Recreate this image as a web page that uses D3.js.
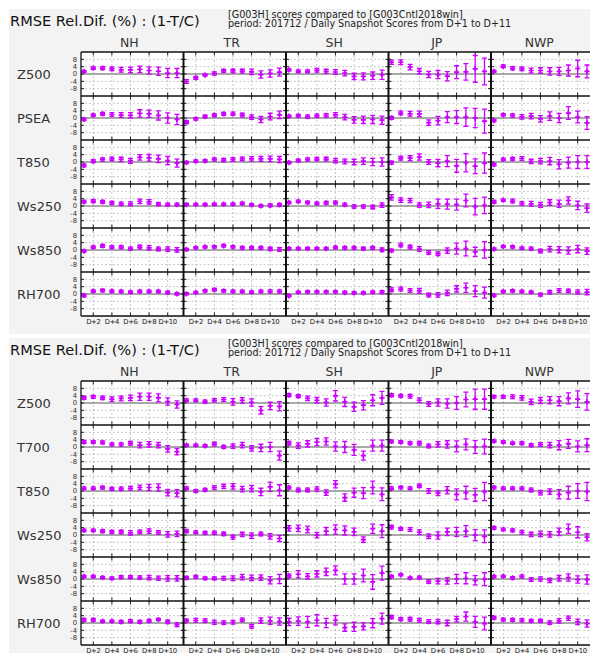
<!DOCTYPE html>
<html>
<head>
<meta charset="utf-8">
<script src="https://cdn.jsdelivr.net/npm/d3@7"></script>
<style>
body { margin: 0; background: #fff; }
svg { display: block; font-family: "DejaVu Sans", sans-serif; }
</style>
</head>
<body>
<svg id="chart" width="590" height="653"></svg>
<script>
// regions (columns) and forecast days
var regions = ["NH", "TR", "SH", "JP", "NWP"];
var days = [1, 2, 3, 4, 5, 6, 7, 8, 9, 10, 11];
var dayTicks = [2, 4, 6, 8, 10];
var yTicks = [8, 4, 0, -4, -8];
var title = "RMSE Rel.Dif. (%) : (1-T/C)";
var subtitle = ["[G003H] scores compared to [G003Cntl2018win]",
                "period: 201712 / Daily Snapshot Scores from D+1 to D+11"];

// ---- upper chart: one array per variable, one row per region (NH,TR,SH,JP,NWP)
var topVars = ["Z500", "PSEA", "T850", "Ws250", "Ws850", "RH700"];
var top_Z500 = [
  [1.4,3.2,3.2,2.8,2.3,2.3,2.5,1.9,1.5,0.5,0.5],
  [-4.1,-2.1,-0.6,0.3,1.7,1.7,1.6,1.2,-0.3,0.3,1.0],
  [2.2,1.5,1.5,2.0,1.5,1.1,0.5,-1.3,-1.3,-0.9,-0.4],
  [6.4,6.4,3.7,1.5,-0.3,-0.3,-1.2,1.0,1.2,2.8,1.4],
  [1.5,4.2,3.1,2.8,1.9,1.9,1.4,1.4,1.9,3.0,1.4]];
var top_Z500_err = [
  [0.5,0.7,0.8,1.0,1.3,1.5,1.8,2.0,2.3,2.5,2.5],
  [1.0,0.8,0.6,0.9,0.8,0.9,1.0,1.5,2.0,2.0,2.2],
  [0.6,0.7,0.8,1.0,1.1,1.3,1.5,1.7,1.9,2.0,2.5],
  [1.2,1.3,1.5,1.5,1.7,2.2,2.5,3.5,4.5,7.3,7.3],
  [0.6,0.7,0.9,1.0,1.3,1.5,2.0,2.2,3.0,4.5,3.5]];
var top_PSEA = [
  [-0.8,1.6,2.3,1.9,1.6,1.4,2.5,2.3,1.4,0.0,-0.8],
  [-2.3,-0.5,0.8,1.6,2.3,2.3,1.6,0.5,-0.8,0.8,1.7],
  [1.0,1.2,0.8,1.2,1.4,1.7,0.5,-1.0,-1.0,-0.8,-1.2],
  [0.1,2.7,2.3,2.3,-2.5,-1.4,0.5,0.5,0.5,0.0,-1.7],
  [-1.4,1.7,1.4,0.6,1.0,-0.5,1.0,0.0,2.7,0.5,-2.7]];
var top_PSEA_err = [
  [0.6,0.7,0.8,1.0,1.3,1.5,2.0,2.0,2.5,2.8,2.8],
  [0.8,0.7,0.7,0.8,0.8,0.9,1.0,1.2,1.7,1.8,2.0],
  [0.6,0.7,0.8,0.9,1.0,1.2,1.5,1.8,2.0,2.2,2.2],
  [0.8,1.0,1.3,1.5,1.5,2.3,3.0,3.5,5.0,5.2,6.5],
  [0.7,0.7,0.9,1.2,1.5,1.8,2.3,2.5,3.5,3.2,3.5]];
var top_T850 = [
  [-1.9,0.5,1.4,1.7,1.4,0.6,2.5,2.3,1.7,0.8,-0.6],
  [-0.3,0.5,0.6,1.4,1.0,1.4,1.7,1.7,1.7,1.7,1.4],
  [-0.3,0.8,1.4,1.6,1.6,0.8,0.3,0.0,0.5,0.0,0.0],
  [-0.4,2.1,2.1,2.7,0.0,-0.6,0.5,-2.1,-0.4,-2.3,-0.6],
  [-1.4,1.4,1.7,1.9,0.3,0.5,0.5,-1.2,-0.3,0.0,0.0]];
var top_T850_err = [
  [0.8,0.8,0.9,1.0,1.2,1.3,1.5,1.8,2.0,2.2,2.2],
  [0.6,0.7,0.7,0.8,0.9,1.0,1.0,1.2,1.3,1.5,1.7],
  [0.6,0.7,0.8,0.9,1.0,1.2,1.3,1.5,1.8,2.0,2.3],
  [0.8,1.0,1.3,1.7,1.3,2.0,3.0,3.5,5.0,4.0,5.5],
  [0.7,0.7,0.8,1.0,1.2,1.5,2.0,2.5,3.0,3.5,3.5]];
var top_Ws250 = [
  [2.3,2.7,2.3,1.7,1.2,1.2,2.5,2.3,1.0,0.8,0.8],
  [0.8,0.8,0.8,1.0,1.0,1.0,1.4,0.6,0.1,0.3,0.6],
  [1.9,2.5,1.9,1.4,1.7,1.9,0.8,-0.3,-0.3,-0.5,0.5],
  [4.7,3.2,3.0,0.5,0.6,1.2,1.0,0.8,3.0,-0.3,0.3],
  [2.3,3.2,2.7,1.4,1.2,0.6,1.9,1.2,3.0,0.3,-1.2]];
var top_Ws250_err = [
  [0.7,0.8,0.8,0.8,0.9,1.0,1.2,1.2,0.8,0.8,0.8],
  [0.6,0.6,0.6,0.6,0.6,0.7,0.7,0.7,0.7,0.8,0.8],
  [0.6,0.7,0.7,0.7,0.8,0.8,0.8,0.9,0.9,1.0,1.2],
  [1.5,1.2,1.2,1.2,1.5,2.5,2.7,3.0,3.5,4.5,4.5],
  [0.8,0.7,1.0,1.0,1.3,1.3,1.5,2.0,2.0,2.3,2.3]];
var top_Ws850 = [
  [-0.6,1.6,2.3,1.6,1.6,0.8,1.6,1.2,0.6,0.5,0.1],
  [0.3,1.2,1.7,1.7,2.3,1.7,1.2,1.2,1.2,0.6,0.3],
  [0.8,0.8,0.8,0.8,0.8,1.4,1.2,1.2,0.8,1.2,0.1],
  [-0.3,2.7,1.6,0.5,-1.4,-2.1,-0.3,0.8,0.8,-1.0,0.1],
  [0.5,1.9,1.7,1.0,0.8,-0.6,0.5,0.1,-0.3,0.5,-0.6]];
var top_Ws850_err = [
  [0.6,0.7,0.8,0.8,0.8,0.8,1.0,1.2,1.0,1.2,1.2],
  [0.6,0.6,0.6,0.7,0.7,0.7,0.7,0.8,0.8,0.9,1.0],
  [0.6,0.6,0.6,0.6,0.6,0.7,0.7,0.7,0.7,0.8,1.0],
  [0.7,1.0,1.0,1.3,1.0,1.0,1.5,3.0,4.0,2.5,4.5],
  [0.6,0.6,0.7,0.7,0.8,1.0,1.5,1.7,2.0,2.0,1.8]];
var top_RH700 = [
  [-0.8,1.6,1.9,1.6,1.4,1.0,1.4,1.4,1.4,0.8,0.1],
  [0.1,0.8,1.7,2.3,1.7,1.4,1.4,1.0,1.4,1.4,1.4],
  [-1.0,1.0,1.2,1.2,1.2,1.2,0.8,0.6,0.6,1.0,1.0],
  [2.3,2.7,1.9,1.7,-0.6,-0.5,0.6,2.8,3.4,1.6,0.8],
  [-0.8,1.4,1.7,1.4,1.0,-0.3,1.0,1.9,1.7,1.0,1.0]];
var top_RH700_err = [
  [0.7,0.7,0.7,0.7,0.7,0.7,0.7,0.7,0.7,0.7,0.7],
  [0.6,0.6,0.7,0.7,0.7,0.7,0.7,0.7,0.7,0.8,0.8],
  [0.6,0.6,0.6,0.6,0.6,0.6,0.7,0.7,0.7,0.7,0.8],
  [1.0,1.0,1.0,1.3,1.0,1.2,1.5,1.7,2.5,3.0,3.0],
  [0.6,0.6,0.7,0.7,0.7,0.8,1.0,1.0,1.0,1.2,1.5]];

// ---- lower chart
var botVars = ["Z500", "T700", "T850", "Ws250", "Ws850", "RH700"];
var bot_Z500 = [
  [2.8,3.4,2.8,2.1,2.5,2.8,3.4,3.4,2.8,0.8,-0.8],
  [1.5,1.5,0.8,1.5,1.9,0.6,1.4,0.3,-4.0,-1.6,-1.8],
  [4.3,3.7,2.5,1.5,0.3,3.9,0.6,-2.1,-1.2,1.5,2.8],
  [4.3,3.9,3.7,1.5,-0.5,0.3,-0.3,0.0,1.9,2.1,2.1],
  [3.4,3.4,3.4,2.8,0.6,1.4,1.5,1.0,2.5,2.1,0.6]];
var bot_Z500_err = [
  [0.8,0.8,1.0,1.2,1.3,1.5,2.0,2.0,2.2,2.0,2.0],
  [0.7,0.7,0.8,0.9,1.0,1.8,1.5,2.0,2.0,2.0,2.5],
  [0.8,0.8,1.2,1.5,2.0,2.8,2.5,2.5,2.5,3.0,3.5],
  [0.8,0.8,1.0,1.3,1.3,2.0,2.5,3.5,4.0,5.5,5.5],
  [0.7,0.8,1.0,1.2,1.5,1.7,2.0,2.5,3.0,4.5,4.5]];
var bot_T700 = [
  [2.7,2.7,2.5,1.4,1.4,2.1,1.0,1.4,1.0,-1.0,-2.5],
  [1.0,1.0,0.6,1.6,0.1,0.5,1.0,-0.8,-0.5,0.0,-4.7],
  [2.1,0.8,1.7,2.7,3.0,0.3,0.0,-1.6,-4.7,0.8,0.8],
  [3.0,2.7,2.1,2.1,0.6,1.4,1.4,0.3,1.4,0.0,0.3],
  [3.2,2.7,2.1,2.1,1.0,1.4,1.0,1.0,1.7,0.3,1.0]];
var bot_T700_err = [
  [0.7,0.7,0.8,0.8,0.9,1.0,1.5,1.5,1.5,1.8,1.8],
  [0.6,0.6,0.7,1.0,0.8,1.2,1.5,1.5,2.0,2.5,2.5],
  [1.0,1.5,1.7,2.0,2.0,2.5,3.0,3.0,2.5,3.0,3.0],
  [0.7,0.7,0.8,1.0,1.0,1.5,2.0,3.0,3.0,3.5,4.0],
  [0.7,0.7,0.7,0.8,0.8,1.0,1.5,2.5,2.5,3.0,3.5]];
var bot_T850 = [
  [1.5,1.5,1.9,1.2,1.2,1.5,1.9,1.9,1.9,-0.9,-1.2],
  [1.5,0.0,0.6,1.9,2.5,2.5,1.0,1.3,-0.5,2.3,0.4],
  [1.9,0.6,0.6,1.0,-0.9,3.7,-3.6,-0.9,-1.2,1.9,-1.8],
  [1.5,1.9,1.5,2.8,0.0,-1.2,0.4,-1.8,-0.9,-2.1,-0.3],
  [1.9,1.5,1.5,1.5,0.6,-0.9,-0.3,-1.8,-0.9,0.0,-0.3]];
var bot_T850_err = [
  [0.7,0.7,0.8,0.8,0.9,1.0,1.3,1.7,2.0,1.8,2.0],
  [0.8,0.8,0.8,1.0,1.2,1.5,1.5,1.8,2.0,2.5,3.0],
  [0.8,1.0,1.0,1.3,1.5,2.0,2.0,2.5,3.0,3.5,3.5],
  [0.7,0.7,0.8,1.0,1.3,1.3,2.0,3.0,3.5,3.5,5.0],
  [0.7,0.7,0.7,0.8,1.0,1.2,1.5,2.5,3.5,4.0,5.0]];
var bot_Ws250 = [
  [2.5,2.5,2.1,1.7,1.7,1.2,1.7,2.1,1.4,0.3,0.6],
  [2.1,1.5,1.2,1.2,0.6,-1.2,0.3,-0.3,0.6,-0.7,-1.9],
  [3.6,3.6,3.0,-0.1,2.1,3.0,2.5,1.7,-2.5,3.4,2.1],
  [4.3,3.4,3.0,1.5,-0.7,-0.3,1.7,1.7,2.1,-0.1,-0.7],
  [3.9,3.0,2.5,1.5,0.3,0.6,0.3,1.7,3.4,1.5,-1.2]];
var bot_Ws250_err = [
  [0.7,0.7,0.8,0.8,0.9,1.2,1.0,1.2,1.0,1.5,1.5],
  [0.8,0.8,0.8,0.9,0.9,1.0,1.2,1.5,1.0,1.5,1.7],
  [1.5,1.8,1.8,1.5,2.0,2.5,2.5,2.0,1.5,2.5,3.5],
  [1.0,0.8,1.0,1.3,1.3,2.0,2.0,2.5,3.0,3.0,3.5],
  [0.8,0.7,0.8,1.0,1.2,1.5,1.5,2.0,2.5,3.0,2.0]];
var bot_Ws850 = [
  [1.4,1.4,0.8,0.4,1.0,1.0,0.8,0.8,0.4,0.3,0.3],
  [0.6,1.2,0.4,0.4,0.4,0.4,1.0,0.6,0.8,-0.7,0.0],
  [1.7,2.6,1.4,2.8,3.9,4.7,0.0,0.0,1.9,-1.6,3.2],
  [1.4,2.3,0.6,0.8,-1.4,-1.2,-1.0,0.0,0.4,-0.7,-0.1],
  [1.4,1.5,0.6,1.4,-0.3,0.0,-0.8,0.4,0.8,-0.3,-0.3]];
var bot_Ws850_err = [
  [0.6,0.6,0.6,0.7,0.8,0.8,0.9,1.2,1.2,1.5,1.5],
  [0.8,0.7,0.7,0.8,1.0,1.3,1.5,1.5,1.5,2.0,2.5],
  [1.0,2.0,1.5,1.7,2.0,2.5,2.8,2.8,3.5,4.0,3.8],
  [0.6,0.6,0.6,0.8,1.0,1.5,1.8,2.5,3.0,2.5,3.5],
  [0.6,0.6,0.7,0.8,1.0,1.2,1.2,1.5,2.0,2.0,2.5]];
var bot_RH700 = [
  [1.7,1.7,1.0,1.0,0.6,1.0,0.6,1.2,1.9,0.6,-0.9],
  [1.3,1.5,1.3,0.4,0.2,0.4,1.7,-1.8,1.3,1.2,0.8],
  [0.6,1.0,0.6,1.5,0.0,1.5,-2.5,-2.1,-1.8,-0.1,2.4],
  [3.2,2.1,2.1,1.5,0.8,0.8,0.0,2.1,3.5,0.6,-0.3],
  [2.8,1.9,1.7,1.5,1.2,1.2,0.2,1.2,2.6,0.6,-0.3]];
var bot_RH700_err = [
  [0.8,0.8,0.6,0.6,0.8,0.8,0.8,0.8,0.6,0.9,1.0],
  [0.8,1.0,0.9,1.2,1.0,1.0,1.0,1.0,1.5,2.0,2.0],
  [2.0,2.3,3.0,3.0,2.5,2.5,2.0,2.5,2.0,2.5,3.0],
  [1.0,0.8,1.0,1.0,1.0,1.2,1.5,1.5,2.5,3.0,3.5],
  [0.8,0.8,0.8,0.9,0.8,0.8,1.0,1.2,1.2,1.5,2.0]];

var topMeans = [top_Z500, top_PSEA, top_T850, top_Ws250, top_Ws850, top_RH700];
var topErrs = [top_Z500_err, top_PSEA_err, top_T850_err, top_Ws250_err, top_Ws850_err, top_RH700_err];
var botMeans = [bot_Z500, bot_T700, bot_T850, bot_Ws250, bot_Ws850, bot_RH700];
var botErrs = [bot_Z500_err, bot_T700_err, bot_T850_err, bot_Ws250_err, bot_Ws850_err, bot_RH700_err];

var svg = d3.select("#chart");
var purple = "#cc00ff";

var plotLeft = 81, colW = 102.5, rowH = 44, plotTop = 43;

var x = d3.scaleLinear().domain([0.68, 11.7]).range([0, colW]);
var y = d3.scaleLinear().domain([-12, 12]).range([rowH, 0]);

function drawPanel(top, varNames, means, errs) {
  var g = svg.append("g").attr("transform", "translate(0," + top + ")");
  var nRows = varNames.length;
  var plotRight = 590;
  var plotBottom = plotTop + nRows * rowH;

  g.append("rect").attr("x", 9).attr("y", 0).attr("width", 581).attr("height", plotBottom + 18)
    .attr("fill", "#f3f3f3");
  g.append("rect").attr("x", plotLeft).attr("y", plotTop)
    .attr("width", plotRight - plotLeft).attr("height", plotBottom - plotTop).attr("fill", "#fff");

  // title + subtitle
  g.append("text").attr("x", 10).attr("y", 17).attr("font-size", 14.6).attr("fill", "#111")
    .text(title);
  g.selectAll(".sub").data(subtitle).enter().append("text")
    .attr("x", 228).attr("y", function (d, i) { return 8.5 + i * 9.5; })
    .attr("font-size", 9.6).attr("fill", "#222").text(function (d) { return d; });

  // column headers
  g.selectAll(".hdr").data(regions).enter().append("text")
    .attr("x", function (d, i) { return plotLeft + i * colW + colW / 2 - 3; })
    .attr("y", 37.5).attr("text-anchor", "middle").attr("font-size", 12.5).attr("fill", "#333")
    .text(function (d) { return d; });

  varNames.forEach(function (name, r) {
    var ry = plotTop + r * rowH;
    var rowG = g.append("g").attr("transform", "translate(0," + ry + ")");

    rowG.append("text").attr("x", 17).attr("y", rowH / 2 + 4.5).attr("font-size", 13)
      .attr("fill", "#333").text(name);

    rowG.selectAll(".yl").data(yTicks).enter().append("text")
      .attr("x", 77).attr("y", function (d) { return y(d) + 2.4; })
      .attr("text-anchor", "end").attr("font-size", 6.8).attr("fill", "#333")
      .text(function (d) { return d; });

    regions.forEach(function (reg, c) {
      var cx = plotLeft + c * colW;
      var cg = rowG.append("g").attr("transform", "translate(" + cx + ",0)");

      // dashed grid
      cg.selectAll(".gh").data(yTicks.filter(function (d) { return d !== 0; })).enter().append("line")
        .attr("x1", 0).attr("x2", colW).attr("y1", function (d) { return y(d); }).attr("y2", function (d) { return y(d); })
        .attr("stroke", "#bbb").attr("stroke-width", 0.8).attr("stroke-dasharray", "2,2");
      cg.selectAll(".gv").data(dayTicks).enter().append("line")
        .attr("x1", function (d) { return x(d); }).attr("x2", function (d) { return x(d); })
        .attr("y1", 0).attr("y2", rowH)
        .attr("stroke", "#bbb").attr("stroke-width", 0.8).attr("stroke-dasharray", "2,2");

      // zero line
      cg.append("line").attr("x1", 0).attr("x2", colW).attr("y1", y(0)).attr("y2", y(0))
        .attr("stroke", "#555").attr("stroke-width", 1);

      // ticks
      cg.selectAll(".tx").data(dayTicks).enter().append("path")
        .attr("d", function (d) { return "M" + x(d) + ",0v3.5M" + x(d) + "," + rowH + "v-3.5"; })
        .attr("stroke", "#222").attr("stroke-width", 1);
      cg.selectAll(".ty").data(yTicks).enter().append("path")
        .attr("d", function (d) { return "M0," + y(d) + "h3M" + colW + "," + y(d) + "h-3"; })
        .attr("stroke", "#222").attr("stroke-width", 1);

      // error bars
      var pts = days.map(function (d, i) { return { d: d, m: means[r][c][i], e: errs[r][c][i] }; });
      var eb = cg.selectAll(".eb").data(pts).enter().append("g")
        .attr("stroke", purple).attr("fill", "none");
      eb.append("path")
        .attr("d", function (p) {
          var px = x(p.d), y1 = y(p.m + p.e), y2 = y(p.m - p.e);
          return "M" + px + "," + y1 + "V" + y2 +
            "M" + (px - 2.5) + "," + y1 + "h5M" + (px - 2.5) + "," + y2 + "h5";
        })
        .attr("stroke-width", 1.3);
      eb.append("path")
        .attr("d", function (p) {
          var px = x(p.d), py = y(p.m);
          return "M" + (px - 2.6) + "," + py + "h5.2M" + px + "," + (py - 2.6) + "v5.2";
        })
        .attr("stroke-width", 1.7);
    });

    // row separator
    rowG.append("line").attr("x1", plotLeft).attr("x2", plotRight).attr("y1", 0).attr("y2", 0)
      .attr("stroke", "#111").attr("stroke-width", 1.3);
  });

  // x tick labels
  regions.forEach(function (reg, c) {
    g.selectAll(".xl" + c).data(dayTicks).enter().append("text")
      .attr("x", function (d) { return plotLeft + c * colW + x(d); })
      .attr("y", plotBottom + 7.5).attr("text-anchor", "middle").attr("font-size", 6.8)
      .attr("letter-spacing", -0.35)
      .attr("fill", "#222").text(function (d) { return "D+" + d; });
  });

  // column separators and border
  regions.forEach(function (reg, c) {
    if (c === 0) return;
    g.append("line").attr("x1", plotLeft + c * colW).attr("x2", plotLeft + c * colW)
      .attr("y1", plotTop).attr("y2", plotBottom).attr("stroke", "#111").attr("stroke-width", 2);
  });
  g.append("line").attr("x1", plotLeft).attr("x2", plotLeft).attr("y1", plotTop).attr("y2", plotBottom)
    .attr("stroke", "#111").attr("stroke-width", 1.3);
  g.append("line").attr("x1", plotLeft).attr("x2", plotRight).attr("y1", plotBottom).attr("y2", plotBottom)
    .attr("stroke", "#111").attr("stroke-width", 1.3);
}

drawPanel(9, topVars, topMeans, topErrs);
drawPanel(338, botVars, botMeans, botErrs);
</script>
</body>
</html>
